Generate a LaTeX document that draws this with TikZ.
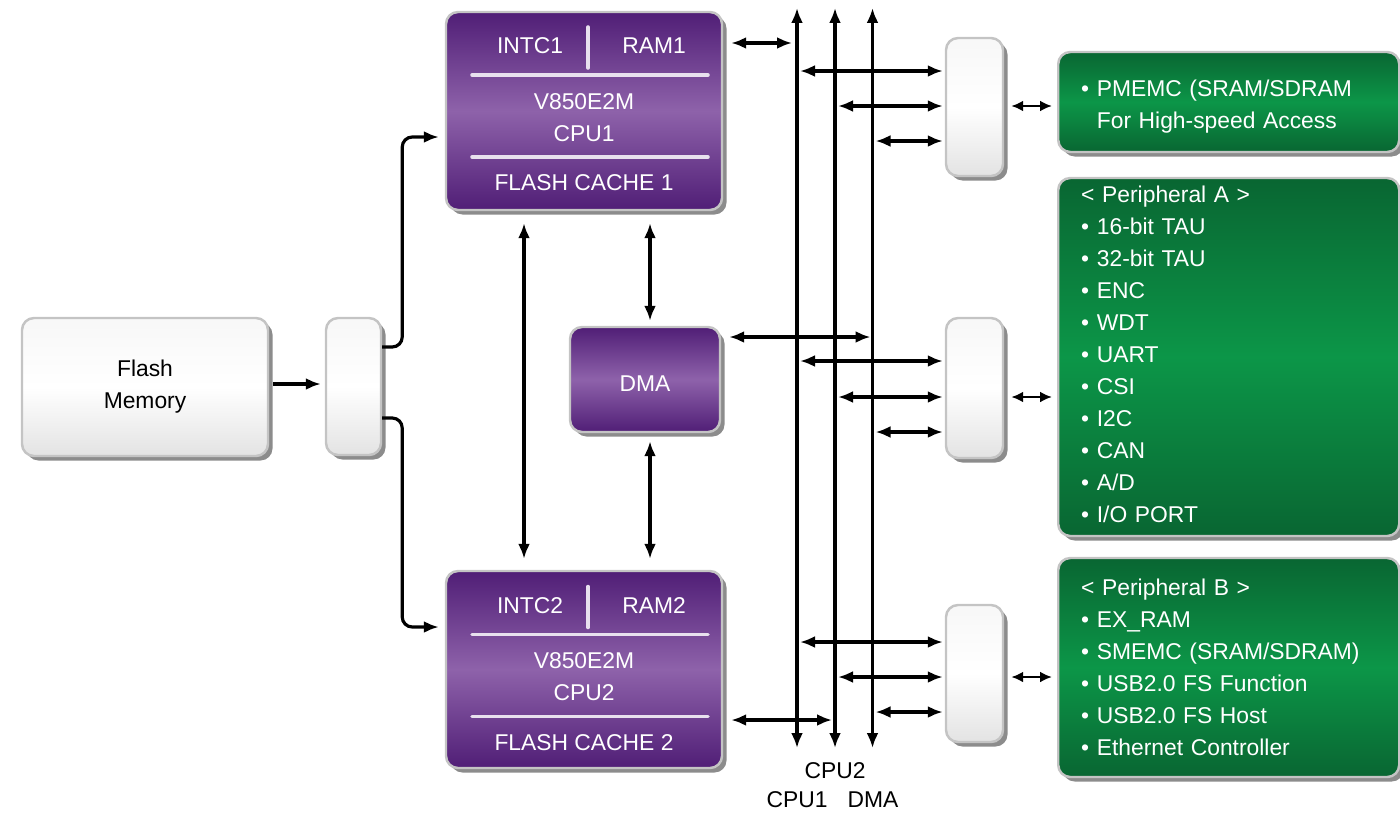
\documentclass[tikz,border=0pt]{standalone}
\usepackage{fontspec}
\setmainfont{Liberation Sans}
\usetikzlibrary{arrows.meta,shadows}
\definecolor{purpD}{RGB}{80,30,118}
\definecolor{purpL}{RGB}{142,98,170}
\definecolor{grnD}{RGB}{9,102,50}
\definecolor{grnL}{RGB}{12,150,72}
\definecolor{rimgray}{RGB}{196,196,196}
\definecolor{shadegray}{RGB}{140,140,140}

\begin{document}
\begin{tikzpicture}[font=\fontsize{6.5pt}{9.1pt}\selectfont,
    box/.style={draw=rimgray,line width=0.7pt,rounded corners=0.12cm,inner sep=0pt,
        drop shadow={shadow xshift=0.045cm,shadow yshift=-0.045cm,fill=shadegray,opacity=1}},
    grybox/.style={box,top color=gray!6,bottom color=gray!22,middle color=white},
    cpubox/.style={box,top color=purpD,bottom color=purpD,middle color=purpL,text=white},
    perbox/.style={box,top color=grnD,bottom color=grnD,middle color=grnL,text=white,
        align=left,anchor=west,inner xsep=0.23cm,text width=2.95cm},
    sep/.style={line width=1pt,draw=white!80!purpL,line cap=round},
    dbl/.style={line width=0.9pt,{Latex[length=0.15cm,width=0.12cm]}-{Latex[length=0.15cm,width=0.12cm]}},
    dblsmall/.style={line width=0.8pt,{Latex[length=0.12cm,width=0.11cm]}-{Latex[length=0.12cm,width=0.11cm]}},
    sarr/.style={line width=0.9pt,-{Latex[length=0.15cm,width=0.12cm]}}]
    \useasboundingbox(0,0)rectangle(14,-8.14);
    % flash side
    \node[grybox,minimum width=2.46cm,minimum height=1.38cm,align=center](flash)at(1.45,-3.87){Flash\\Memory};
    \node[grybox,minimum width=0.55cm,minimum height=1.37cm](mux0)at(3.535,-3.865){};
    % cores and dma
    \node[cpubox,minimum width=2.76cm,minimum height=1.98cm](cpu1)at(5.84,-1.11){};
    \node[cpubox,minimum width=2.76cm,minimum height=1.97cm](cpu2)at(5.84,-6.695){};
    \node[cpubox,minimum width=1.50cm,minimum height=1.05cm](dma)at(6.45,-3.795){\raisebox{-0.04cm}[\height][\depth]{DMA}};
    \foreach \n/\dy in {1/0,2/-5.595}{
        \node[text=white](intc\n)at(5.30,-0.46+\dy){INTC\n};
        \node[text=white](ram\n)at(6.54,-0.46+\dy){RAM\n};
        \node[text=white,align=center](core\n)at(5.84,-1.175+\dy){V850E2M\\CPU\n};
        \node[text=white](cache\n)at(5.84,-1.83+\dy){FLASH CACHE \n};
        \draw[sep](5.88,-0.27+\dy)--(5.88,-0.68+\dy);
        \draw[sep](4.72,-0.75+\dy)--(7.08,-0.75+\dy);
        \draw[sep](4.72,-1.57+\dy)--(7.08,-1.57+\dy);
    }
    % buses
    \coordinate(buscpu1)at(7.97,-0.08);
    \coordinate(buscpu2)at(8.35,-0.08);
    \coordinate(busdma)at(8.725,-0.08);
    \foreach \b in {buscpu1,buscpu2,busdma}
        \draw[dbl](\b)--++(0,-7.40);
    \node(lblcpu2)at(8.35,-7.71){CPU2};
    \node(lblcpu1)at(7.97,-8.00){CPU1};
    \node(lbldma)at(8.73,-8.00){DMA};
    % bridges and peripherals
    \node[grybox,minimum width=0.57cm,minimum height=1.38cm](muxA)at(9.745,-1.07){};
    \node[grybox,minimum width=0.57cm,minimum height=1.40cm](muxB)at(9.745,-3.88){};
    \node[grybox,minimum width=0.57cm,minimum height=1.37cm](muxC)at(9.745,-6.735){};
    \node[perbox,minimum height=1.00cm](perA)at(10.57,-1.02){\rule{0pt}{0.25cm}• PMEMC (SRAM/SDRAM\\\phantom{• }For High-speed Access};
    \node[perbox,minimum height=3.58cm](perB)at(10.57,-3.57){< Peripheral A >\\• 16-bit TAU\\• 32-bit TAU\\• ENC\\• WDT\\• UART\\• CSI\\• I2C\\• CAN\\• A/D\\• I/O PORT\rule[-0.06cm]{0pt}{0.06cm}};
    \node[perbox,minimum height=2.19cm](perC)at(10.57,-6.675){< Peripheral B >\\• EX\_RAM\\• SMEMC (SRAM/SDRAM)\\• USB2.0 FS Function\\• USB2.0 FS Host\\• Ethernet Controller};
    % links
    \draw[sarr,shorten <=0.04cm,shorten >=0.04cm](flash.east|-0,-3.84)--(mux0.west|-0,-3.84);
    \draw[sarr,rounded corners=0.1cm,shorten >=0.06cm](mux0.east|-0,-3.47)--++(0.2,0)|-(cpu1.west|-0,-1.37);
    \draw[sarr,rounded corners=0.1cm,shorten >=0.06cm](mux0.east|-0,-4.18)--++(0.2,0)|-(cpu2.west|-0,-6.27);
    \draw[dbl,shorten <=0.12cm,shorten >=0.11cm](cpu1.south-|5.24,0)--(cpu2.north-|5.24,0);
    \draw[dbl,shorten <=0.12cm,shorten >=0.05cm](cpu1.south-|6.50,0)--(dma.north-|6.50,0);
    \draw[dbl,shorten <=0.08cm,shorten >=0.11cm](dma.south-|6.50,0)--(cpu2.north-|6.50,0);
    \draw[dbl,shorten <=0.08cm,shorten >=0.05cm](cpu1.east|-0,-0.43)--(buscpu1|-0,-0.43);
    \draw[dbl,shorten <=0.08cm,shorten >=0.02cm](dma.east|-0,-3.37)--(busdma|-0,-3.37);
    \draw[dbl,shorten <=0.08cm,shorten >=0.03cm](cpu2.east|-0,-7.20)--(buscpu2|-0,-7.20);
    \foreach \m/\p/\ya/\yb/\yc in {muxA/perA/-0.71/-1.06/-1.41,muxB/perB/-3.61/-3.97/-4.32,muxC/perC/-6.42/-6.77/-7.12}{
        \draw[dbl,shorten <=0.03cm,shorten >=0.02cm](buscpu1|-0,\ya)--(\m.west|-0,\ya);
        \draw[dbl,shorten <=0.03cm,shorten >=0.02cm](buscpu2|-0,\yb)--(\m.west|-0,\yb);
        \draw[dbl,shorten <=0.03cm,shorten >=0.02cm](busdma|-0,\yc)--(\m.west|-0,\yc);
        \draw[dblsmall,shorten <=0.07cm,shorten >=0.05cm](\m.east|-0,\yb)--(\p.west|-0,\yb);
    }
\end{tikzpicture}
\end{document}
